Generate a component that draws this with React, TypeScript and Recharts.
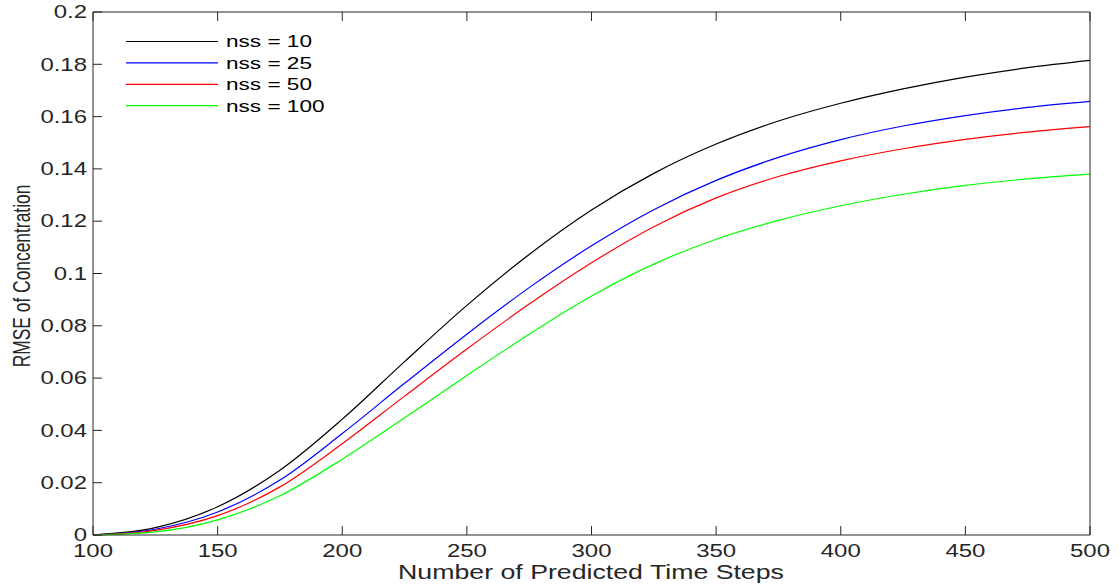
import { LineChart, Line, XAxis, YAxis, Legend } from "recharts";

const steps = [100, 125, 150, 175, 200, 225, 250, 275, 300, 325, 350, 375, 400, 425, 450, 475, 500];
const nss10 = [0, 0.0028, 0.0108, 0.0248, 0.0443, 0.0663, 0.0878, 0.1073, 0.1243, 0.1383, 0.1495, 0.1583, 0.1651, 0.1706, 0.1751, 0.1787, 0.1815];
const nss25 = [0, 0.0022, 0.0088, 0.021, 0.0388, 0.058, 0.0768, 0.0946, 0.1106, 0.1244, 0.1356, 0.1444, 0.1512, 0.1564, 0.1604, 0.1635, 0.1658];
const nss50 = [0, 0.0018, 0.0074, 0.0184, 0.0349, 0.0531, 0.0711, 0.0883, 0.1041, 0.1179, 0.1289, 0.1371, 0.1431, 0.1477, 0.1513, 0.1541, 0.1562];
const nss100 = [0, 0.0012, 0.0058, 0.015, 0.029, 0.0448, 0.061, 0.0768, 0.0914, 0.1036, 0.1131, 0.1203, 0.1259, 0.1303, 0.1337, 0.1362, 0.138];

const xTicks = [100, 150, 200, 250, 300, 350, 400, 450, 500];
const yTicks = [0, 0.02, 0.04, 0.06, 0.08, 0.1, 0.12, 0.14, 0.16, 0.18, 0.2];

const seriesNames = ["nss = 10", "nss = 25", "nss = 50", "nss = 100"];
const seriesColors = ["#000000", "#0000ff", "#ff0000", "#00ff00"];

const data = steps.map((x, i) => ({
  x,
  s10: nss10[i],
  s25: nss25[i],
  s50: nss50[i],
  s100: nss100[i],
}));

const AX = "#262626";
const FONT = "'Liberation Sans', Arial, sans-serif";
const SX = 1.37; // the original picture is stretched sideways
const TICK = 9;

function LeftTick(props: any) {
  const { x, y, payload } = props;
  return (
    <g>
      <line x1={x} x2={x + TICK} y1={y} y2={y} stroke={AX} />
      <text
        transform={`translate(${x - 6},${y}) scale(${SX},1)`}
        textAnchor="end"
        dominantBaseline="central"
        fontSize={17.5}
        fontFamily={FONT}
        fill={AX}
      >
        {String(payload.value)}
      </text>
    </g>
  );
}

function BottomTick(props: any) {
  const { x, y, payload } = props;
  return (
    <g>
      <line x1={x} x2={x} y1={y} y2={y - TICK} stroke={AX} />
      <text
        transform={`translate(${x},${y + 16}) scale(${SX},1)`}
        textAnchor="middle"
        dominantBaseline="central"
        fontSize={17.5}
        fontFamily={FONT}
        fill={AX}
      >
        {String(payload.value)}
      </text>
    </g>
  );
}

function TopTick(props: any) {
  const { x, y } = props;
  return <line x1={x} x2={x} y1={y} y2={y + TICK} stroke={AX} />;
}

function RightTick(props: any) {
  const { x, y } = props;
  return <line x1={x} x2={x - TICK} y1={y} y2={y} stroke={AX} />;
}

function YTitle() {
  return (
    <text
      transform={`translate(21,276) scale(${SX},1) rotate(-90)`}
      textAnchor="middle"
      dominantBaseline="central"
      fontSize={17.4}
      fontFamily={FONT}
      fill={AX}
    >
      RMSE of Concentration
    </text>
  );
}

function XTitle() {
  return (
    <text
      transform={`translate(591,572) scale(${SX},1)`}
      textAnchor="middle"
      dominantBaseline="central"
      fontSize={19.5}
      fontFamily={FONT}
      fill={AX}
    >
      Number of Predicted Time Steps
    </text>
  );
}

function LegendBox(props: any) {
  const items = [...(props.payload || [])].sort(
    (a: any, b: any) => seriesNames.indexOf(a.value) - seriesNames.indexOf(b.value)
  );
  return (
    <svg width={240} height={92} style={{ display: "block" }}>
      {items.map((p: any, i: number) => {
        const y = 11.5 + i * 21.4;
        return (
          <g key={i}>
            <line x1={0} x2={92} y1={y} y2={y} stroke={p.color} strokeWidth={1.2} />
            <text
              transform={`translate(100,${y}) scale(${SX},1)`}
              dominantBaseline="central"
              fontSize={16.5}
              fontFamily={FONT}
              fill="#000"
            >
              {p.value}
            </text>
          </g>
        );
      })}
    </svg>
  );
}

export default function App() {
  return (
    <div style={{ position: "absolute", left: 0, top: 0, width: 1119, height: 588, background: "#fff" }}>
      <LineChart
        width={1119}
        height={588}
        data={data}
        margin={{ top: 11, right: 28, left: 33, bottom: 23 }}
      >
        <XAxis
          xAxisId="bottom"
          dataKey="x"
          type="number"
          domain={[100, 500]}
          ticks={xTicks}
          interval={0}
          height={30}
          tickSize={0}
          tickMargin={0}
          tickLine={false}
          axisLine={{ stroke: AX }}
          tick={<BottomTick />}
          label={<XTitle />}
        />
        <XAxis
          xAxisId="top"
          orientation="top"
          dataKey="x"
          type="number"
          domain={[100, 500]}
          ticks={xTicks}
          interval={0}
          height={1}
          tickSize={0}
          tickMargin={0}
          tickLine={false}
          axisLine={{ stroke: AX }}
          tick={<TopTick />}
        />
        <YAxis
          yAxisId="left"
          type="number"
          domain={[0, 0.2]}
          ticks={yTicks}
          interval={0}
          width={60}
          tickSize={0}
          tickMargin={0}
          tickLine={false}
          axisLine={{ stroke: AX }}
          tick={<LeftTick />}
          label={<YTitle />}
        />
        <YAxis
          yAxisId="right"
          orientation="right"
          type="number"
          domain={[0, 0.2]}
          ticks={yTicks}
          interval={0}
          width={1}
          tickSize={0}
          tickMargin={0}
          tickLine={false}
          axisLine={{ stroke: AX }}
          tick={<RightTick />}
        />
        <Legend
          layout="horizontal"
          verticalAlign="middle"
          align="center"
          content={<LegendBox />}
          wrapperStyle={{ left: 126, top: 30, width: 240, height: 92 }}
        />
        {["s10", "s25", "s50", "s100"].map((key, i) => (
          <Line
            key={key}
            xAxisId="bottom"
            yAxisId="left"
            dataKey={key}
            name={seriesNames[i]}
            type="monotone"
            stroke={seriesColors[i]}
            strokeWidth={1.2}
            dot={false}
            activeDot={false}
            isAnimationActive={false}
          />
        ))}
      </LineChart>
    </div>
  );
}
